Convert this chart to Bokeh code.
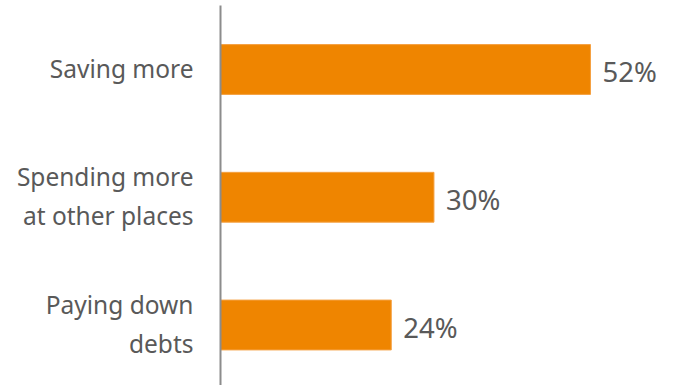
from bokeh.plotting import figure
from bokeh.models import ColumnDataSource, Range1d
from bokeh.core.properties import value
from bokeh.embed import file_html
from bokeh.resources import INLINE

categories = ["Saving more", "Spending more\nat other places", "Paying down\ndebts"]
values = [52, 30, 24]
value_labels = ["52%", "30%", "24%"]

n = len(categories)
ypos = [n - 1 - i for i in range(n)]

src = ColumnDataSource(dict(cat=categories, val=values, lab=value_labels, y=ypos,
                            zero=[0] * n))

px_per_unit_x = 7.115
px_per_unit_y = 127.75
W, H = 673, 385
left_px = 220
x_start = -left_px / px_per_unit_x
x_end = (W - left_px) / px_per_unit_x
y_start = -(H - 324.5) / px_per_unit_y
y_end = (n - 1) + 69 / px_per_unit_y

p = figure(width=W, height=H, output_backend="svg", toolbar_location=None,
           x_range=Range1d(x_start, x_end), y_range=Range1d(y_start, y_end),
           min_border=0, outline_line_color=None)
p.xaxis.visible = False
p.yaxis.visible = False
p.grid.visible = False
p.background_fill_color = "white"
p.border_fill_color = "white"

p.hbar(y="y", left=0, right="val", height=0.39, source=src,
       fill_color="#EF8500", line_color="#F5A040", line_width=1)

# axis line
p.segment(x0=[0], y0=[y_start], x1=[0], y1=[y_end - 5 / px_per_unit_y],
          line_color="#8C8C8C", line_width=2)

p.text(x="zero", y="y", text="cat", source=src, x_offset=-27, y_offset=-1,
       text_align="right", text_baseline="middle", text_color="#595959",
       text_font=value("Noto Sans"), text_font_size="24.5px", text_line_height=1.18)

p.text(x="val", y="y", text="lab", source=src, x_offset=12, y_offset=2,
       text_align="left", text_baseline="middle", text_color="#595959",
       text_font=value("Noto Sans"), text_font_size="27.5px")

open("out.html", "w").write(file_html(p, INLINE))
